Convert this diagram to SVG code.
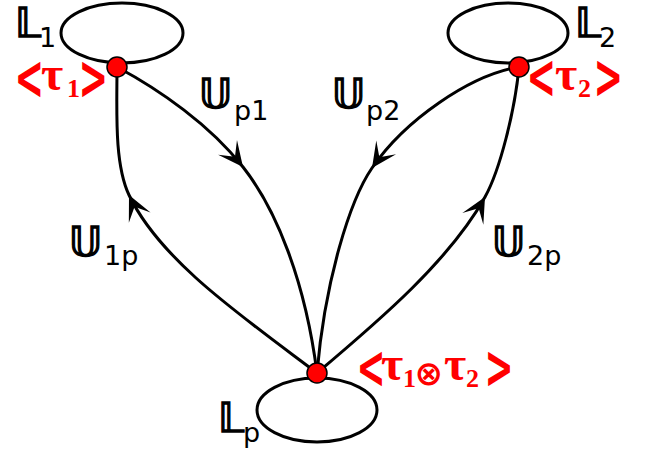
<svg xmlns="http://www.w3.org/2000/svg" width="646" height="456" viewBox="0 0 646 456">
<style>
.loop{fill:none;stroke:#000;stroke-width:3}
.edge{fill:none;stroke:#000;stroke-width:3;marker-mid:url(#ah)}
.dot{fill:#f00;stroke:#000;stroke-width:1.5}
.lab{font-family:"DejaVu Sans",sans-serif;fill:#000}
.big{font-size:40px;stroke:#000;stroke-width:1.3}
.sub{font-size:27px}
.tau{font-family:"Liberation Serif",serif;fill:#f00;font-weight:bold;font-size:48px}
.ts{font-family:"Liberation Serif",serif;fill:#f00;font-weight:bold;font-size:26px}
.br{font-family:"DejaVu Sans",sans-serif;font-weight:bold;fill:#f00;font-size:62px}
.ot{font-family:"DejaVu Sans",sans-serif;font-weight:bold;fill:#f00;font-size:34px}
</style>
<defs>
<marker id="ah" markerUnits="userSpaceOnUse" orient="auto" overflow="visible" markerWidth="1" markerHeight="1" refX="0" refY="0">
<path d="M0,0 L-25,-12 L-13,0 L-25,12 Z" fill="#000"/>
</marker>
</defs>
<g id="connectors">
<path id="Up1" class="edge" d="M117,67 C160,90 210,125 243,167 C276,209 305,280 317,373"/>
<path id="Up2" class="edge" d="M519,67 C470,75 405,120 372,168 C350,200 325,280 317,373"/>
<path id="U1p" class="edge" d="M317,373 C240,315 160,260 129,195 C114,163 117,110 117,67"/>
<path id="U2p" class="edge" d="M317,373 C380,320 450,260 485,197 C500,170 515,110 519,67"/>
</g>
<g id="L1">
<ellipse class="loop" cx="122" cy="33" rx="61" ry="30"/>
<circle class="dot" cx="117" cy="67" r="10"/>
<text class="lab" x="15" y="37"><tspan class="big">𝕃</tspan><tspan class="sub" x="39" y="47">1</tspan></text>
<text class="br" transform="translate(14.5,99) scale(0.57,1)">&lt;</text>
<text class="tau" x="41" y="90">τ</text>
<text class="ts" x="67" y="97">1</text>
<text class="br" transform="translate(78.5,99) scale(0.57,1)">&gt;</text>
</g>
<g id="L2">
<ellipse class="loop" cx="508" cy="33" rx="60" ry="30"/>
<circle class="dot" cx="519" cy="67" r="10"/>
<text class="lab" x="575" y="37"><tspan class="big">𝕃</tspan><tspan class="sub" x="599" y="47">2</tspan></text>
<text class="br" transform="translate(526.5,98) scale(0.57,1)">&lt;</text>
<text class="tau" x="555" y="90">τ</text>
<text class="ts" x="578" y="97">2</text>
<text class="br" transform="translate(593.5,98) scale(0.57,1)">&gt;</text>
</g>
<g id="Lp">
<ellipse class="loop" cx="317" cy="410" rx="60" ry="32"/>
<circle class="dot" cx="317" cy="373" r="10"/>
<text class="lab" x="218" y="432"><tspan class="big">𝕃</tspan><tspan class="sub" x="243" y="442">p</tspan></text>
<text class="br" transform="translate(356.5,388) scale(0.56,0.97)">&lt;</text>
<text class="tau" x="381" y="380" font-size="45">τ</text>
<text class="ts" x="403" y="387">1</text>
<text class="ot" x="414.5" y="384.5">⊗</text>
<text class="tau" x="444" y="380" font-size="45">τ</text>
<text class="ts" x="466" y="387">2</text>
<text class="br" transform="translate(484.5,388) scale(0.56,0.97)">&gt;</text>
</g>
<g id="labels">
<text class="lab" x="199" y="108"><tspan class="big">𝕌</tspan><tspan class="sub" x="234" y="120">p1</tspan></text>
<text class="lab" x="332" y="108"><tspan class="big">𝕌</tspan><tspan class="sub" x="366" y="120">p2</tspan></text>
<text class="lab" x="69" y="256"><tspan class="big">𝕌</tspan><tspan class="sub" x="104" y="265">1p</tspan></text>
<text class="lab" x="492" y="256"><tspan class="big">𝕌</tspan><tspan class="sub" x="527" y="265">2p</tspan></text>
</g>
</svg>
